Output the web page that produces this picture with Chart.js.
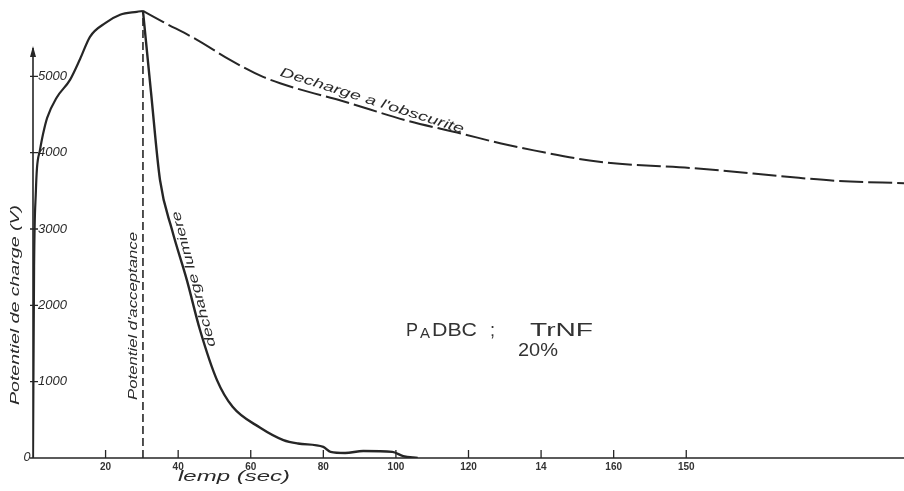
<!DOCTYPE html>
<html>
<head>
<meta charset="utf-8">
<script src="https://cdn.jsdelivr.net/npm/chart.js@4.4.0/dist/chart.umd.min.js"></script>
<style>
    html, body { margin: 0; padding: 0; background: #fff; }
    canvas { display: block; }
</style>
</head>
<body>
<canvas id="chart" width="904" height="491"></canvas>
<script>
/* time (s) and potential (V) */
const tCharge = [0, 0.3, 0.8, 1.1, 1.9, 2.8, 3.9, 6.5, 10.2, 13, 15.7, 20, 24, 28.6, 30.3];
const vCharge = [0, 2500, 3500, 3800, 4030, 4250, 4456, 4720, 4954, 5230, 5518, 5700, 5806, 5845, 5856];

const tDark = [30.3, 35.8, 45.2, 54.3, 63.4, 72.7, 85, 103, 118, 129, 138, 156, 184, 211, 222, 240];
const vDark = [5856, 5714, 5478, 5216, 4993, 4840, 4680, 4420, 4250, 4120, 4030, 3880, 3790, 3670, 3630, 3600];

const tLight = [30.3, 32.5, 35, 38.3, 42.4, 46, 50.7, 55, 62.5, 69, 73, 80, 82, 86, 91, 99, 102, 106];
const vLight = [5856, 4800, 3640, 2990, 2330, 1680, 1020, 670, 400, 235, 190, 145, 80, 65, 92, 80, 25, 0];

const tAccept = [30.3, 30.3];
const vAccept = [0, 5856];

const xTickValues = [20, 40, 60, 80, 100, 120, 140, 160, 180];
const xTickLabels = ["20", "40", "60", "80", "100", "120", "14", "160", "150"];
const yTickValues = [1000, 2000, 3000, 4000, 5000];
const yTickLabels = ["1000", "2000", "3000", "4000", "5000"];

const INK = "#262626";
const yAxisTop = 5370;   // where the drawn arrow ends

const pts = (t, v) => t.map((x, i) => ({ x, y: v[i] }));

function label(ctx, text, cx, cy, deg, font, width) {
    ctx.save();
    ctx.translate(cx, cy);
    ctx.rotate(deg * Math.PI / 180);
    ctx.font = font;
    const w = ctx.measureText(text).width;
    ctx.scale(width / w, 1);
    ctx.textAlign = "center";
    ctx.textBaseline = "middle";
    ctx.fillText(text, 0, 0);
    ctx.restore();
}

function labelLeft(ctx, text, x, base, font, width) {
    ctx.save();
    ctx.translate(x, base);
    ctx.font = font;
    const w = ctx.measureText(text).width;
    ctx.scale(width / w, 1);
    ctx.textAlign = "left";
    ctx.textBaseline = "alphabetic";
    ctx.fillText(text, 0, 0);
    ctx.restore();
}

const sketch = {
    id: "sketch",
    afterDraw(chart) {
        const { ctx, scales: { x, y } } = chart;
        const x0 = x.getPixelForValue(0);
        const y0 = y.getPixelForValue(0);
        ctx.save();
        ctx.strokeStyle = INK;
        ctx.fillStyle = INK;
        ctx.lineWidth = 1.6;

        /* axes */
        ctx.beginPath();
        ctx.moveTo(x0 - 3, y0);
        ctx.lineTo(x.right, y0);
        const yt = y.getPixelForValue(yAxisTop);
        ctx.moveTo(x0, y0);
        ctx.lineTo(x0, yt);
        ctx.stroke();
        ctx.beginPath();
        ctx.moveTo(x0, yt - 2);
        ctx.lineTo(x0 - 3, yt + 9);
        ctx.lineTo(x0 + 3, yt + 9);
        ctx.closePath();
        ctx.fill();

        /* tick marks */
        ctx.lineWidth = 1.3;
        ctx.beginPath();
        xTickValues.forEach(v => {
            const px = x.getPixelForValue(v);
            ctx.moveTo(px, y0);
            ctx.lineTo(px, y0 - 8);
        });
        yTickValues.forEach(v => {
            const py = y.getPixelForValue(v);
            ctx.moveTo(x0 - 3, py);
            ctx.lineTo(x0 + 5, py);
        });
        ctx.stroke();

        /* hand lettering */
        ctx.fillStyle = "#2a2a2a";
        label(ctx, "0", x0 - 6, y0 - 1, 0, "italic 13px 'Liberation Sans'", 7);
        label(ctx, "Potentiel de charge (V)", 15, 305, -90, "italic 13px 'Liberation Sans'", 200);
        label(ctx, "Potentiel d'acceptance", 133, 316, -90, "italic 13px 'Liberation Sans'", 168);
        label(ctx, "decharge lumiere", 194, 279, -105, "italic 13px 'Liberation Sans'", 140);
        label(ctx, "Decharge a l'obscurite", 372, 101, 17.5, "italic 13px 'Liberation Sans'", 192);
        label(ctx, "lemp (sec)", 234, 477, 0, "italic 15px 'Liberation Sans'", 112);

        ctx.fillStyle = "#333";
        labelLeft(ctx, "P", 406, 336, "18px 'Liberation Sans'", 12);
        labelLeft(ctx, "A", 420, 338, "14px 'Liberation Sans'", 10);
        labelLeft(ctx, "DBC", 432, 336, "18px 'Liberation Sans'", 45);
        labelLeft(ctx, ";", 490, 336, "18px 'Liberation Sans'", 5);
        labelLeft(ctx, "TrNF", 530, 336, "18px 'Liberation Sans'", 63);
        labelLeft(ctx, "20%", 518, 356, "19px 'Liberation Sans'", 40);
        ctx.restore();
    }
};

new Chart(document.getElementById("chart"), {
    type: "line",
    data: {
        datasets: [
            {
                label: "charge",
                data: pts(tCharge, vCharge),
                borderColor: INK, borderWidth: 2.2,
                cubicInterpolationMode: "monotone",
            },
            {
                label: "Decharge a l'obscurite",
                data: pts(tDark, vDark),
                borderColor: INK, borderWidth: 2,
                borderDash: [24, 5],
                cubicInterpolationMode: "monotone",
            },
            {
                label: "decharge lumiere",
                data: pts(tLight, vLight),
                borderColor: INK, borderWidth: 2.4,
                cubicInterpolationMode: "monotone",
            },
            {
                label: "Potentiel d'acceptance",
                data: pts(tAccept, vAccept),
                borderColor: INK, borderWidth: 1.6,
                borderDash: [8, 4],
                tension: 0,
            },
        ]
    },
    options: {
        responsive: false,
        animation: false,
        devicePixelRatio: 1,
        layout: { padding: 0 },
        elements: { point: { radius: 0 } },
        plugins: { legend: { display: false }, tooltip: { enabled: false } },
        scales: {
            x: {
                type: "linear", min: 0, max: 240,
                grid: { display: false, drawTicks: false, tickLength: 0 }, border: { display: false },
                afterBuildTicks: s => { s.ticks = xTickValues.map(v => ({ value: v })); },
                ticks: {
                    autoSkip: false, maxRotation: 0, padding: 3,
                    color: "#333", font: { family: "'Liberation Sans'", size: 10, weight: "bold" },
                    callback: v => xTickLabels[xTickValues.indexOf(v)] ?? "",
                },
                afterFit: s => { s.height = 33; s.paddingLeft = 0; s.paddingRight = 0; },
            },
            y: {
                type: "linear", min: 0, max: 6000,
                grid: { display: false }, border: { display: false },
                afterBuildTicks: s => { s.ticks = yTickValues.map(v => ({ value: v })); },
                ticks: {
                    mirror: true, padding: 5,
                    color: "#2a2a2a", font: { family: "'Liberation Sans'", size: 13, style: "italic" },
                    callback: v => yTickLabels[yTickValues.indexOf(v)] ?? "",
                },
                afterFit: s => { s.width = 33; s.paddingTop = 0; s.paddingBottom = 0; },
            }
        }
    },
    plugins: [sketch]
});
</script>
</body>
</html>
